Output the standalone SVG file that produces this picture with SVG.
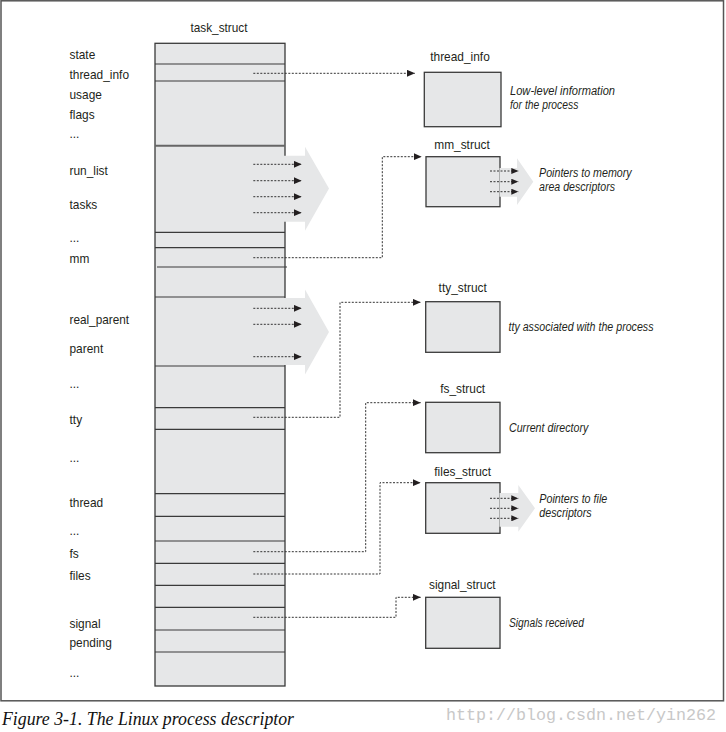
<svg xmlns="http://www.w3.org/2000/svg" width="726" height="732" viewBox="0 0 726 732">
<style>
  .lbl { font-family: "Liberation Sans", Arial, sans-serif; font-size: 13.5px; fill: #231f20; }
  .ttl { font-family: "Liberation Sans", Arial, sans-serif; font-size: 13.5px; fill: #231f20; text-anchor: middle; }
  .desc { font-family: "Liberation Sans", Arial, sans-serif; font-size: 12px; font-style: italic; fill: #231f20; }
  .box { fill: #e6e7e8; stroke: #3a3a3a; stroke-width: 1.3; }
  .sep { stroke: #3a3a3a; stroke-width: 1.2; }
  .big { fill: #e6e7e8; }
  .dot { fill: none; stroke: #333; stroke-width: 1; stroke-dasharray: 2 1.5; }
  .cap { font-family: "Liberation Serif", serif; font-style: italic; font-size: 17.8px; fill: #111; }
  .wm { font-family: "Liberation Mono", monospace; font-size: 16.5px; fill: #c8c8c8; }
</style>
<defs>
  <marker id="ah" viewBox="0 0 8 7" refX="8" refY="3.5" markerWidth="8" markerHeight="7" markerUnits="userSpaceOnUse" orient="auto">
    <path d="M0,0 L8,3.5 L0,7 Z" fill="#231f20"/>
  </marker>
  <marker id="ahs" viewBox="0 0 7 6" refX="7" refY="3" markerWidth="7" markerHeight="6" markerUnits="userSpaceOnUse" orient="auto">
    <path d="M0,0 L7,3 L0,6 Z" fill="#231f20"/>
  </marker>
</defs>

<rect x="1" y="0.8" width="722.5" height="700" fill="#fff" stroke="#555" stroke-width="1.5"/>

<g id="task_struct">
  <text class="ttl" x="219" y="32" textLength="57" lengthAdjust="spacingAndGlyphs">task_struct</text>
  <rect class="box" x="155" y="43.3" width="130" height="642.7"/>
  <line class="sep" x1="155" y1="64" x2="285" y2="64"/>
  <line class="sep" x1="155" y1="81" x2="285" y2="81"/>
  <line x1="155" y1="145.7" x2="285" y2="145.7" stroke="#666" stroke-width="2"/>
  <line class="sep" x1="155" y1="232.3" x2="285" y2="232.3"/>
  <line class="sep" x1="155" y1="247.7" x2="285" y2="247.7" stroke="#666"/>
  <line class="sep" x1="157" y1="267" x2="287" y2="267"/>
  <line class="sep" x1="155" y1="297" x2="285" y2="297"/>
  <line class="sep" x1="155" y1="366" x2="285" y2="366"/>
  <line class="sep" x1="155" y1="407.7" x2="285" y2="407.7"/>
  <line class="sep" x1="155" y1="429.3" x2="285" y2="429.3"/>
  <line class="sep" x1="155" y1="493.7" x2="285" y2="493.7"/>
  <line class="sep" x1="155" y1="516.3" x2="285" y2="516.3"/>
  <line class="sep" x1="155" y1="541" x2="285" y2="541"/>
  <line class="sep" x1="155" y1="563.3" x2="285" y2="563.3"/>
  <line class="sep" x1="155" y1="585.3" x2="285" y2="585.3"/>
  <line class="sep" x1="155" y1="607.3" x2="285" y2="607.3"/>
  <line class="sep" x1="155" y1="630" x2="285" y2="630"/>
  <line class="sep" x1="155" y1="652" x2="285" y2="652"/>
  <polygon class="big" points="284,155.7 305,155.7 305,146.7 329,188.5 305,230.7 305,221.7 284,221.7"/>
  <polygon class="big" points="284,298 305,298 305,289.5 329,332 305,374.5 305,365 284,365"/>
  <text class="lbl" x="69.5" y="58.5" textLength="25.8" lengthAdjust="spacingAndGlyphs">state</text>
  <text class="lbl" x="69.5" y="78.5" textLength="59.5" lengthAdjust="spacingAndGlyphs">thread_info</text>
  <text class="lbl" x="69.5" y="99" textLength="32.4" lengthAdjust="spacingAndGlyphs">usage</text>
  <text class="lbl" x="69.5" y="119" textLength="25.1" lengthAdjust="spacingAndGlyphs">flags</text>
  <text class="lbl" x="69.5" y="137.5" textLength="9.9" lengthAdjust="spacingAndGlyphs">...</text>
  <text class="lbl" x="69.5" y="175" textLength="38.3" lengthAdjust="spacingAndGlyphs">run_list</text>
  <text class="lbl" x="69.5" y="208.5" textLength="27.8" lengthAdjust="spacingAndGlyphs">tasks</text>
  <text class="lbl" x="69.5" y="242" textLength="9.9" lengthAdjust="spacingAndGlyphs">...</text>
  <text class="lbl" x="69.5" y="262.7" textLength="19.8" lengthAdjust="spacingAndGlyphs">mm</text>
  <text class="lbl" x="69.5" y="323.5" textLength="59.5" lengthAdjust="spacingAndGlyphs">real_parent</text>
  <text class="lbl" x="69.5" y="353" textLength="33.7" lengthAdjust="spacingAndGlyphs">parent</text>
  <text class="lbl" x="69.5" y="387.7" textLength="9.9" lengthAdjust="spacingAndGlyphs">...</text>
  <text class="lbl" x="69.5" y="423.5" textLength="12.6" lengthAdjust="spacingAndGlyphs">tty</text>
  <text class="lbl" x="69.5" y="461.7" textLength="9.9" lengthAdjust="spacingAndGlyphs">...</text>
  <text class="lbl" x="69.5" y="506.7" textLength="33.7" lengthAdjust="spacingAndGlyphs">thread</text>
  <text class="lbl" x="69.5" y="535" textLength="9.9" lengthAdjust="spacingAndGlyphs">...</text>
  <text class="lbl" x="69.5" y="557.5" textLength="9.3" lengthAdjust="spacingAndGlyphs">fs</text>
  <text class="lbl" x="69.5" y="579.5" textLength="21.1" lengthAdjust="spacingAndGlyphs">files</text>
  <text class="lbl" x="69.5" y="627.5" textLength="31.1" lengthAdjust="spacingAndGlyphs">signal</text>
  <text class="lbl" x="69.5" y="646.7" textLength="42.3" lengthAdjust="spacingAndGlyphs">pending</text>
  <text class="lbl" x="69.5" y="677" textLength="9.9" lengthAdjust="spacingAndGlyphs">...</text>
</g>

<g id="thread_info">
  <text class="ttl" x="460" y="60.5" textLength="59.5" lengthAdjust="spacingAndGlyphs">thread_info</text>
  <rect class="box" x="424.3" y="72.3" width="76.7" height="54.4"/>
  <text class="desc" x="510" y="95" textLength="105" lengthAdjust="spacingAndGlyphs">Low-level information</text>
  <text class="desc" x="510" y="108.5" textLength="68.3" lengthAdjust="spacingAndGlyphs">for the process</text>
</g>

<g id="mm_struct">
  <text class="ttl" x="462" y="148.5" textLength="55.5" lengthAdjust="spacingAndGlyphs">mm_struct</text>
  <rect class="box" x="426" y="156.7" width="74" height="50"/>
  <polygon class="big" points="499.5,168 517,168 517,158.3 533.3,181.7 517,205 517,196.7 499.5,196.7"/>
  <text class="desc" x="539" y="176.7" textLength="92.7" lengthAdjust="spacingAndGlyphs">Pointers to memory</text>
  <text class="desc" x="539" y="190.5" textLength="76" lengthAdjust="spacingAndGlyphs">area descriptors</text>
</g>

<g id="tty_struct">
  <text class="ttl" x="462.7" y="292" textLength="48.2" lengthAdjust="spacingAndGlyphs">tty_struct</text>
  <rect class="box" x="425.7" y="301.7" width="74.3" height="50.6"/>
  <text class="desc" x="508.5" y="330.5" textLength="145" lengthAdjust="spacingAndGlyphs">tty associated with the process</text>
</g>

<g id="fs_struct">
  <text class="ttl" x="462.7" y="393" textLength="44.9" lengthAdjust="spacingAndGlyphs">fs_struct</text>
  <rect class="box" x="425.7" y="402.3" width="74.3" height="50.4"/>
  <text class="desc" x="509" y="431.5" textLength="79.3" lengthAdjust="spacingAndGlyphs">Current directory</text>
</g>

<g id="files_struct">
  <text class="ttl" x="462.7" y="475.5" textLength="56.8" lengthAdjust="spacingAndGlyphs">files_struct</text>
  <rect class="box" x="425.7" y="482.7" width="74.3" height="50.6"/>
  <polygon class="big" points="499.5,493 518.3,493 518.3,485 535,508.3 518.3,531.7 518.3,526.7 499.5,526.7"/>
  <text class="desc" x="539.3" y="503" textLength="68" lengthAdjust="spacingAndGlyphs">Pointers to file</text>
  <text class="desc" x="539.3" y="517" textLength="52.4" lengthAdjust="spacingAndGlyphs">descriptors</text>
</g>

<g id="signal_struct">
  <text class="ttl" x="462.3" y="588.5" textLength="66.7" lengthAdjust="spacingAndGlyphs">signal_struct</text>
  <rect class="box" x="425.7" y="597.3" width="74.3" height="51"/>
  <text class="desc" x="509" y="626.5" textLength="75" lengthAdjust="spacingAndGlyphs">Signals received</text>
</g>

<g id="connectors">
  <line class="dot" x1="253.3" y1="164.3" x2="301.7" y2="164.3" marker-end="url(#ah)"/>
  <line class="dot" x1="253.3" y1="180.7" x2="301.7" y2="180.7" marker-end="url(#ah)"/>
  <line class="dot" x1="253.3" y1="196.7" x2="301.7" y2="196.7" marker-end="url(#ah)"/>
  <line class="dot" x1="253.3" y1="212.7" x2="301.7" y2="212.7" marker-end="url(#ah)"/>
  <line class="dot" x1="253.3" y1="308.3" x2="301.7" y2="308.3" marker-end="url(#ah)"/>
  <line class="dot" x1="253.3" y1="324.3" x2="301.7" y2="324.3" marker-end="url(#ah)"/>
  <line class="dot" x1="253.3" y1="356.7" x2="301.7" y2="356.7" marker-end="url(#ah)"/>
  <line class="dot" x1="490" y1="171" x2="518.3" y2="171" marker-end="url(#ahs)"/>
  <line class="dot" x1="490" y1="181.7" x2="518.3" y2="181.7" marker-end="url(#ahs)"/>
  <line class="dot" x1="490" y1="191.7" x2="518.3" y2="191.7" marker-end="url(#ahs)"/>
  <line class="dot" x1="490" y1="498.3" x2="518.3" y2="498.3" marker-end="url(#ahs)"/>
  <line class="dot" x1="490" y1="508.3" x2="518.3" y2="508.3" marker-end="url(#ahs)"/>
  <line class="dot" x1="490" y1="518.3" x2="518.3" y2="518.3" marker-end="url(#ahs)"/>
  <polyline class="dot" points="253.3,73.3 415,73.3" marker-end="url(#ah)"/>
  <polyline class="dot" points="253.3,257.7 382.3,257.7 382.3,156.7 421.7,156.7" marker-end="url(#ah)"/>
  <polyline class="dot" points="253.3,417.3 340,417.3 340,302.3 420.7,302.3" marker-end="url(#ah)"/>
  <polyline class="dot" points="253.3,551.7 365.7,551.7 365.7,402.7 420.7,402.7" marker-end="url(#ah)"/>
  <polyline class="dot" points="253.3,574 380,574 380,482.7 420.7,482.7" marker-end="url(#ah)"/>
  <polyline class="dot" points="253.3,617.3 396,617.3 396,597.3 420.7,597.3" marker-end="url(#ah)"/>
</g>

<text class="cap" x="2" y="725">Figure 3-1. The Linux process descriptor</text>
<text class="wm" x="446" y="720" textLength="270" lengthAdjust="spacingAndGlyphs">http://blog.csdn.net/yin262</text>
</svg>
